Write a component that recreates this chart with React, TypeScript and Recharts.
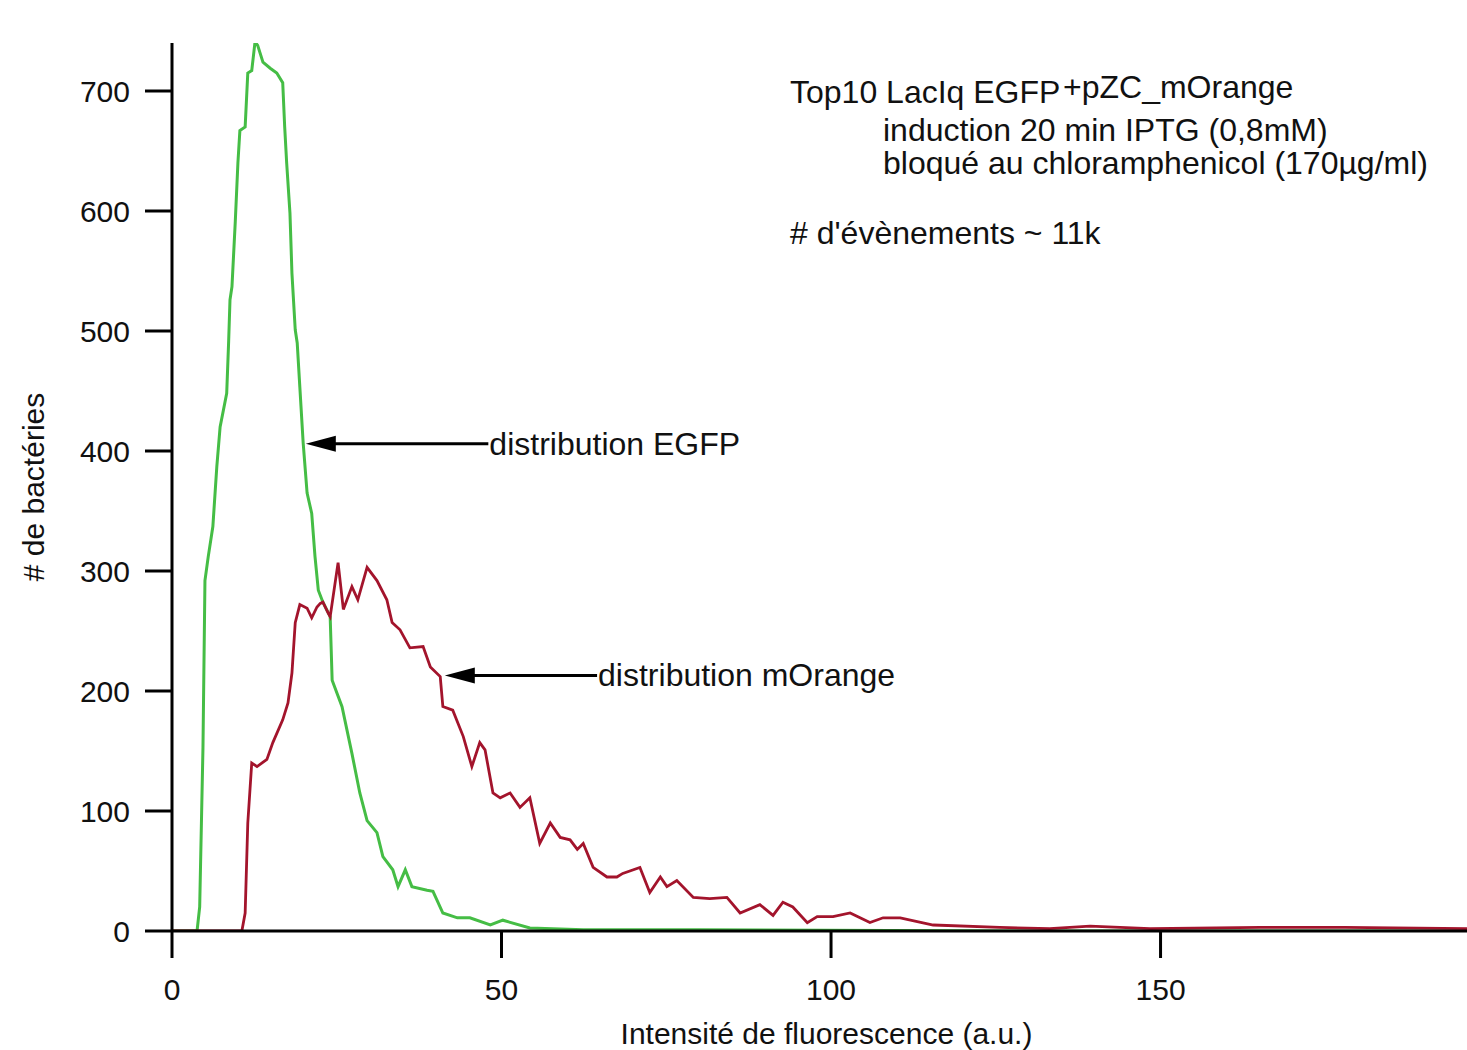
import React from 'react';
import { LineChart, Line, XAxis, YAxis, ReferenceLine, Label } from 'recharts';

// [intensity, count]
const egfpHistogram: [number, number][] = [
  [0, 0], [3.8, 0], [4.2, 20], [4.7, 153], [5.0, 292], [5.5, 312], [6.2, 337], [6.8, 387],
  [7.3, 420], [8.3, 448], [8.6, 492], [8.8, 526], [9.1, 537], [9.6, 591], [10.0, 640],
  [10.3, 667], [11.1, 670], [11.5, 715], [12.1, 717], [12.6, 741], [13.0, 738], [13.8, 724],
  [14.9, 719], [15.9, 715], [16.8, 707], [17.1, 670], [17.4, 640], [17.9, 598], [18.2, 548],
  [18.7, 501], [19.0, 490], [19.4, 453], [19.9, 407], [20.5, 365], [21.2, 348], [21.7, 312],
  [22.2, 284], [22.9, 274], [24.0, 262], [24.3, 209], [25.8, 187], [27.3, 148], [28.5, 115],
  [29.6, 92], [31.1, 82], [32.0, 62], [33.5, 51], [34.3, 37], [35.4, 51], [36.4, 37],
  [38.7, 34], [39.6, 33], [41.1, 15], [43.3, 11], [45.2, 11], [48.3, 5], [50.2, 9],
  [54.3, 2.5], [62.4, 1], [80, 1], [133, 0], [196.5, 0],
];

const mOrangeHistogram: [number, number][] = [
  [0, 0], [10.6, 0], [11.1, 15], [11.5, 90], [12.1, 140], [12.9, 137], [14.4, 143],
  [15.3, 157], [16.8, 176], [17.6, 190], [18.2, 215], [18.7, 257], [19.4, 272], [20.5, 269],
  [21.2, 261], [22.0, 270], [22.5, 273], [22.9, 274], [23.7, 265], [24.0, 262], [25.2, 307],
  [26.0, 268], [27.3, 287], [28.2, 276], [29.6, 303], [31.1, 292], [32.6, 276], [33.4, 257],
  [34.6, 251], [36.1, 236], [38.1, 237], [39.2, 220], [40.7, 212], [41.1, 187], [42.6, 184],
  [44.2, 162], [45.5, 137], [46.7, 157], [47.5, 151], [48.7, 115], [49.8, 111], [51.3, 115],
  [52.8, 103], [54.3, 111], [55.8, 73], [57.4, 90], [58.9, 78], [60.4, 76], [61.5, 68],
  [62.4, 73], [63.9, 53], [66.0, 45], [67.5, 45], [68.4, 48], [71.0, 53], [72.5, 32],
  [74.1, 45], [75.1, 37], [76.6, 42], [79.1, 28], [81.6, 27], [84.2, 28], [86.2, 15],
  [89.2, 22], [91.2, 13], [92.7, 24], [94.2, 20], [96.4, 7], [97.9, 12], [100.3, 12],
  [102.9, 15], [105.9, 7], [107.9, 11], [110.5, 11], [115.5, 5], [125.6, 3], [133.2, 2],
  [139.3, 4], [148.4, 2], [165.1, 3], [178, 3], [196.5, 2],
];

const xTicks = [0, 50, 100, 150];
const yTicks = [0, 100, 200, 300, 400, 500, 600, 700];

const egfpData = egfpHistogram.map(([x, y]) => ({ x, y }));
const mOrangeData = mOrangeHistogram.map(([x, y]) => ({ x, y }));

const FONT = '"Liberation Sans", Arial, sans-serif';

const arrowShape = (text: string) => (props: any) => {
  const { x1, y1, x2 } = props;
  const left = Math.min(x1, x2);
  const right = Math.max(x1, x2);
  return (
    <g>
      <line x1={left + 20} y1={y1} x2={right} y2={y1} stroke="#000" strokeWidth={3} />
      <polygon
        points={`${left},${y1} ${left + 30},${y1 - 8} ${left + 30},${y1 + 8}`}
        fill="#000"
      />
      <text
        x={right + 1}
        y={y1}
        dominantBaseline="central"
        fontSize={32}
        fontFamily={FONT}
        fill="#111"
      >
        {text}
      </text>
    </g>
  );
};

const YTitle = (props: any) => {
  const { viewBox } = props;
  const cx = 33;
  const cy = viewBox.y + viewBox.height / 2;
  return (
    <text
      x={cx}
      y={cy}
      transform={`rotate(-90, ${cx}, ${cy})`}
      textAnchor="middle"
      dominantBaseline="central"
      fontSize={30}
      fontFamily={FONT}
      fill="#111"
    >
      # de bactéries
    </text>
  );
};

const note: React.CSSProperties = {
  position: 'absolute',
  fontFamily: FONT,
  fontSize: 32,
  lineHeight: '32px',
  color: '#111',
  whiteSpace: 'nowrap',
};

const App: React.FC = () => {
  return (
    <div style={{ position: 'absolute', left: 0, top: 0, width: 1467, height: 1050, background: '#fff' }}>
      <LineChart
        width={1467}
        height={1050}
        margin={{ top: 43, right: 0, bottom: 0, left: 0 }}
      >
        <XAxis
          type="number"
          dataKey="x"
          domain={[0, 196.5]}
          ticks={xTicks}
          allowDataOverflow
          height={119}
          tickSize={27}
          tickMargin={21}
          stroke="#000"
          strokeWidth={3}
          tick={{ fill: '#111', fontSize: 30, fontFamily: FONT }}
        >
          <Label
            value="Intensité de fluorescence (a.u.)"
            position="insideBottom"
            offset={6}
            dx={7}
            style={{ fill: '#111', fontSize: 30, fontFamily: FONT }}
          />
        </XAxis>
        <YAxis
          type="number"
          dataKey="y"
          domain={[0, 740]}
          ticks={yTicks}
          allowDataOverflow
          width={172}
          tickSize={27}
          tickMargin={15}
          stroke="#000"
          strokeWidth={3}
          tick={{ fill: '#111', fontSize: 30, fontFamily: FONT }}
          label={<YTitle />}
        />
        <Line
          data={egfpData}
          dataKey="y"
          type="linear"
          stroke="#45bd45"
          strokeWidth={3}
          dot={false}
          isAnimationActive={false}
        />
        <Line
          data={mOrangeData}
          dataKey="y"
          type="linear"
          stroke="#a3142c"
          strokeWidth={2.8}
          dot={false}
          isAnimationActive={false}
        />
        <ReferenceLine
          segment={[{ x: 20.3, y: 406 }, { x: 48.0, y: 406 }]}
          shape={arrowShape('distribution EGFP')}
        />
        <ReferenceLine
          segment={[{ x: 41.4, y: 213 }, { x: 64.5, y: 213 }]}
          shape={arrowShape('distribution mOrange')}
        />
      </LineChart>
      <div style={{ ...note, left: 790, top: 76 }}>Top10 LacIq EGFP</div>
      <div style={{ ...note, left: 1063, top: 71 }}>+pZC_mOrange</div>
      <div style={{ ...note, left: 883, top: 114 }}>induction 20 min IPTG (0,8mM)</div>
      <div style={{ ...note, left: 883, top: 147 }}>bloqué au chloramphenicol (170µg/ml)</div>
      <div style={{ ...note, left: 790, top: 217 }}>{"# d'évènements ~ 11k"}</div>
    </div>
  );
};

export default App;
